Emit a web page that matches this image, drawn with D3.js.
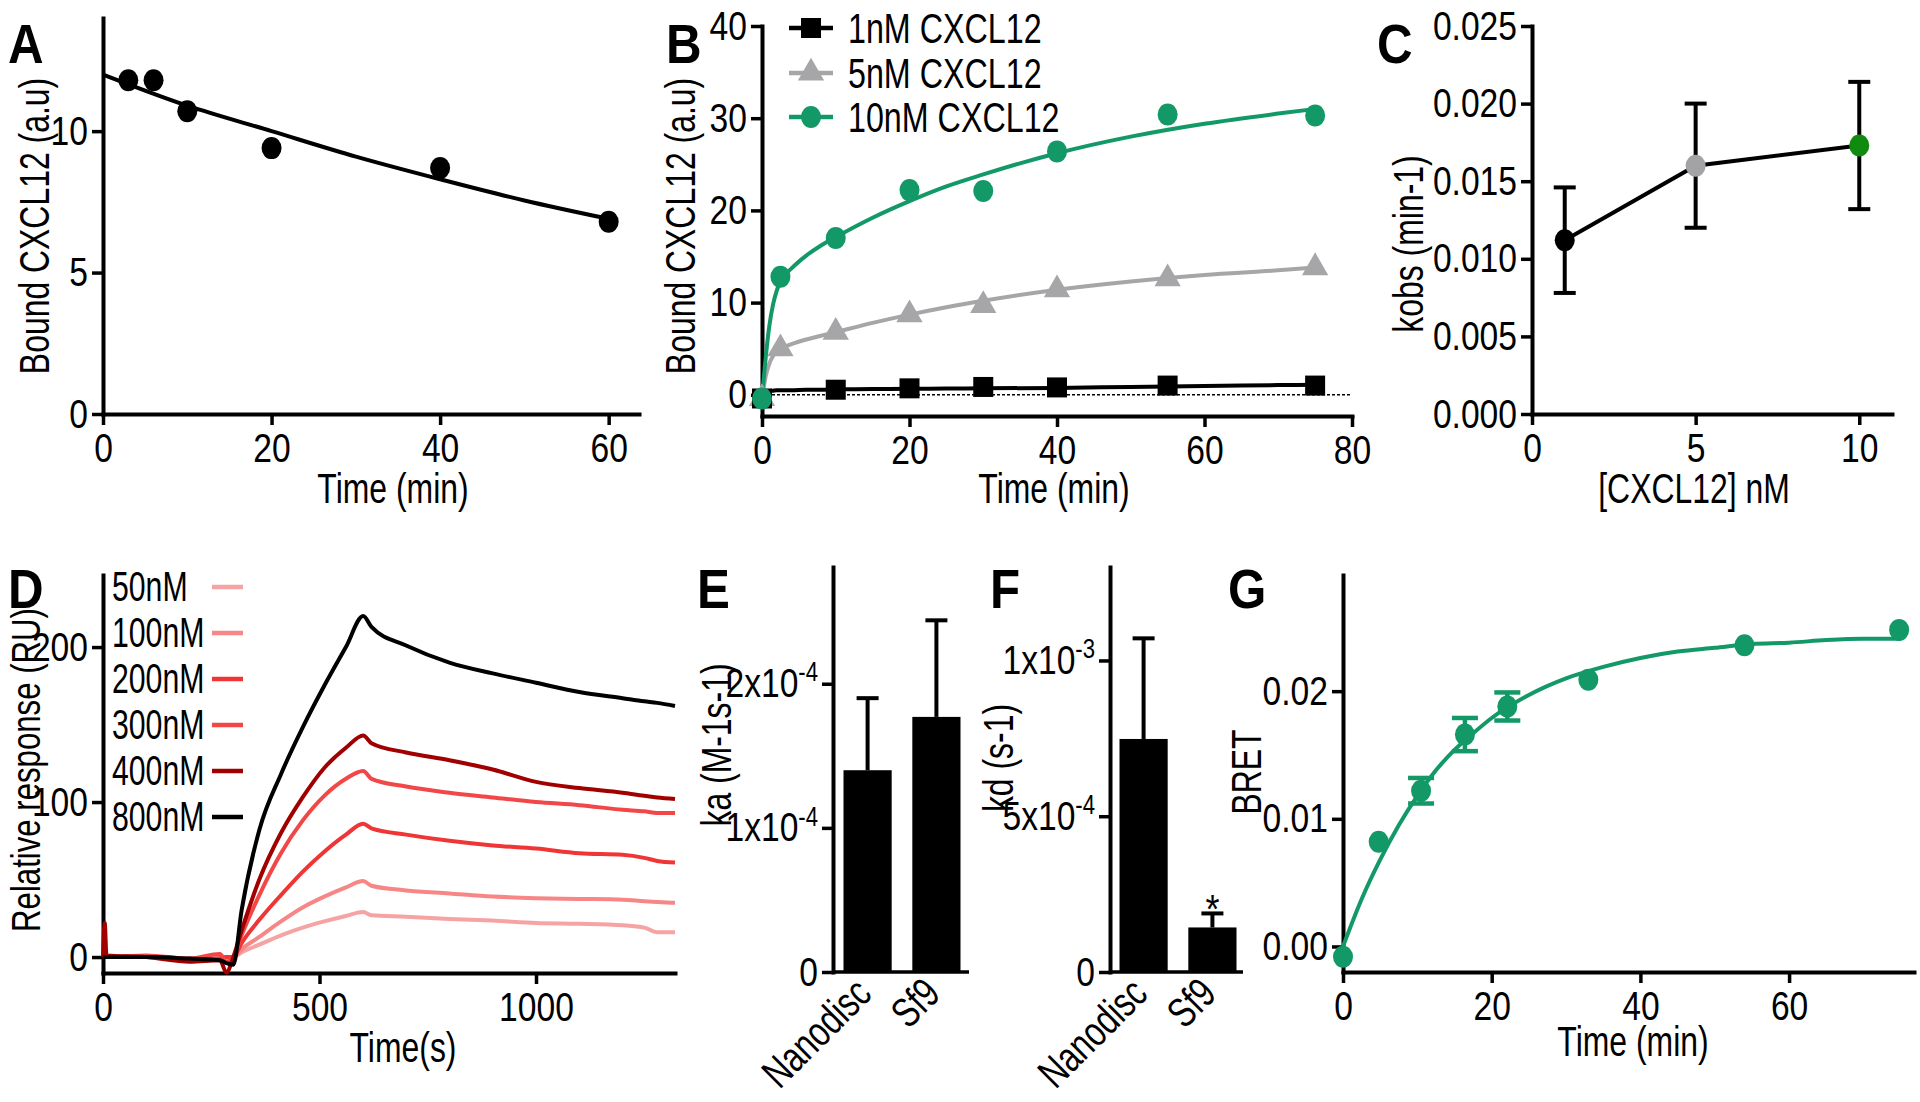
<!DOCTYPE html>
<html><head><meta charset="utf-8">
<script src="https://cdn.jsdelivr.net/npm/d3@7"></script>
<style>
body{margin:0;background:#fff}
svg{display:block}
</style>
</head><body>
<svg id="fig" width="1920" height="1102"></svg>
<script>
// ---------- DATA ----------
// Panel A
const aTime = [3, 6, 10, 20, 40, 60];
const aBound = [11.8, 11.8, 10.7, 9.4, 8.7, 6.8];
const aFitTime = [0, 10, 20, 30, 40, 50, 60];
const aFitBound = [12.0, 10.9, 10.0, 9.1, 8.3, 7.55, 6.9];

// Panel B
const bSeries = ["1nM CXCL12", "5nM CXCL12", "10nM CXCL12"];
const bTime = [0, 2.5, 10, 20, 30, 40, 55, 75];
const b1nM = [-0.4, null, 0.55, 0.7, 0.85, 0.8, 1.0, 1.0];
const b5nM = [-0.4, 5.0, 6.8, 8.7, 9.7, 11.4, 12.6, 13.8];
const b10nM = [-0.4, 12.8, 17.0, 22.2, 22.1, 26.4, 30.4, 30.3];
const bFitTime = [0, 0.5, 1, 1.5, 2, 2.5, 4, 6, 8, 10, 15, 20, 25, 30, 40, 50, 60, 70, 75];
const bFit1 = [-0.3, 0.2, 0.4, 0.45, 0.5, 0.5, 0.5, 0.55, 0.55, 0.6, 0.62, 0.65, 0.68, 0.7, 0.75, 0.85, 0.95, 1.05, 1.1];
const bFit5 = [-0.5, 2.0, 3.4, 4.2, 4.7, 5.0, 5.5, 6.0, 6.4, 6.8, 7.8, 8.7, 9.5, 10.2, 11.4, 12.3, 13.0, 13.5, 13.8];
const bFit10 = [-0.5, 4.0, 7.5, 9.8, 11.3, 12.3, 13.7, 15.1, 16.2, 17.1, 19.2, 21.0, 22.6, 23.9, 26.2, 28.0, 29.4, 30.5, 31.0];

// Panel C
const cConc = [1, 5, 10];
const cKobs = [0.0112, 0.0160, 0.0173];
const cErr = [0.0034, 0.0040, 0.0041];

// Panel D
const dLabels = ["50nM", "100nM", "200nM", "300nM", "400nM", "800nM"];
const dTime = [0, 4, 8, 100, 200, 270, 285, 301, 320, 361, 411, 461, 511, 561, 601, 620, 700, 800, 900, 1000, 1100, 1200, 1250, 1280, 1321];
const d50 =  [0, 1, 0, 0, -1, 0, 0, 0, 3, 8, 14, 19, 23, 26.5, 29, 27, 26, 24.5, 23.5, 22, 21.5, 20.5, 19, 16, 16];
const d100 = [0, 1, 0, 0, -1, 0, 0, 0, 5, 13, 23, 32, 39, 45, 49, 46, 43, 41, 39, 38, 37.5, 37, 36, 35.5, 35];
const d200 = [0, 2, 0, 0, -2, -1, 0, 0, 9, 24, 40, 55, 68, 79, 86, 83, 79, 75, 72, 70, 67, 66, 64, 62, 61];
const d300 = [0, 3, 0, 1, -1, 2, -3, 0, 14, 40, 67, 88, 104, 115, 120, 115, 110, 106, 103, 100, 98, 95, 94, 93, 93];
const d400 = [0, 22, 1, 0, -3, -2, -10, 0, 17, 50, 80, 103, 122, 135, 143, 138, 132, 127, 121, 113, 109, 106, 104, 103, 102];
const d800 = [0, 0, 0, 0, -1, -2, -4, -5, 30, 82, 118, 148, 175, 200, 220, 213, 201, 190, 183, 177, 171, 167, 165, 164, 162];

// Panels E and F
const efCats = ["Nanodisc", "Sf9"];
const eKa = [1.40e-4, 1.77e-4];
const eKaErr = [0.50e-4, 0.67e-4];
const eTicks = [0, 1e-4, 2e-4];
const eTickBase = ["0", "1x10", "2x10"];
const eTickExp = ["", "-4", "-4"];
const fKd = [7.48e-4, 1.43e-4];
const fKdErr = [3.23e-4, 0.45e-4];
const fTicks = [0, 5e-4, 1e-3];
const fTickBase = ["0", "5x10", "1x10"];
const fTickExp = ["", "-4", "-3"];

// Panel G
const gTime = [0, 4.8, 10.5, 16.4, 22.1, 33, 54, 74.8];
const gBret = [-0.0008, 0.0082, 0.0122, 0.0166, 0.0188, 0.0209, 0.0236, 0.0248];
const gErr = [0, 0, 0.0010, 0.0013, 0.0011, 0, 0, 0];
const gFitTime = [0, 2.5, 5, 7.5, 10, 12.5, 15, 17.5, 20, 25, 30, 35, 40, 45, 50, 55, 60, 65, 70, 75];
const gFitBret = [0, 0.0037, 0.0068, 0.0095, 0.0118, 0.0138, 0.0154, 0.0167, 0.0179, 0.0197, 0.0210, 0.0219, 0.0226, 0.0231, 0.0234, 0.0237, 0.0238, 0.0240, 0.0241, 0.0241];

// ---------- STYLE ----------
const FONT = "'Liberation Sans',Arial,sans-serif";
const GREEN = "#139868";
const GREY = "#a6a6a9";
const DCOL = ["#f6a3a3", "#f78686", "#ef3535", "#f24747", "#a00000", "#000000"];
const TICK_FS = 41, TICK_K = 0.82;   // tick labels: tall, condensed
const TITLE_FS = 42, TITLE_K = 0.76; // axis titles
const LW = 4;

const fig = d3.select('#fig');
fig.append('rect').attr('width', 1920).attr('height', 1102).attr('fill', '#fff');

function axisStyle(g) {
  g.attr('font-family', FONT).attr('font-size', TICK_FS);
  g.select('.domain').attr('stroke', '#000').attr('stroke-width', 4).attr('stroke-linecap', 'square');
  g.selectAll('.tick line').attr('stroke', '#000').attr('stroke-width', 3.5);
  g.selectAll('.tick text').attr('fill', '#000').each(function () {
    const t = d3.select(this);
    const x = +t.attr('x') || 0;
    t.attr('x', x / TICK_K).attr('transform', `scale(${TICK_K},1)`);
  });
}
function yAxis(scale, x, ticks, fmt) {
  const g = fig.append('g').attr('transform', `translate(${x},0)`)
    .call(d3.axisLeft(scale).tickValues(ticks).tickFormat(fmt).tickSize(11).tickSizeOuter(0).tickPadding(4));
  axisStyle(g); return g;
}
function xAxis(scale, y, ticks, fmt) {
  const g = fig.append('g').attr('transform', `translate(0,${y})`)
    .call(d3.axisBottom(scale).tickValues(ticks).tickFormat(fmt).tickSize(11).tickSizeOuter(0).tickPadding(8));
  axisStyle(g); return g;
}
function letter(l, x, y) {
  fig.append('text').attr('transform', `translate(${x},${y}) scale(0.88,1)`).attr('font-family', FONT)
    .attr('font-weight', 'bold').attr('font-size', 56).text(l);
}
function label(t, x, y, opts) {
  const o = Object.assign({ rot: 0, anchor: 'middle', fs: TITLE_FS, k: TITLE_K, baseline: null }, opts || {});
  const el = fig.append('text')
    .attr('transform', `translate(${x},${y}) rotate(${o.rot}) scale(${o.k},1)`)
    .attr('text-anchor', o.anchor).attr('font-family', FONT).attr('font-size', o.fs).text(t);
  if (o.baseline) el.attr('dominant-baseline', o.baseline);
  return el;
}
function yTitle(t, x, y) { label(t, x, y, { rot: -90, baseline: 'central' }); }
function xTitle(t, x, y) { label(t, x, y); }
const fmtInt = d3.format('d');

// ---------- PANEL A ----------
{
  const x = d3.scaleLinear().domain([0, 63.6]).range([103, 639]);
  const y = d3.scaleLinear().domain([0, 14]).range([414, 18]);
  yAxis(y, 103, [0, 5, 10], fmtInt);
  xAxis(x, 414, [0, 20, 40, 60], fmtInt);
  const line = d3.line().x(d => x(d[0])).y(d => y(d[1])).curve(d3.curveMonotoneX);
  fig.append('path').attr('d', line(aFitTime.map((t, i) => [t, aFitBound[i]])))
    .attr('fill', 'none').attr('stroke', '#000').attr('stroke-width', LW);
  fig.append('g').selectAll('ellipse').data(aTime).join('ellipse')
    .attr('cx', (d) => x(d)).attr('cy', (d, i) => y(aBound[i])).attr('rx', 10).attr('ry', 11).attr('fill', '#000');
  letter('A', 8, 63);
  yTitle('Bound CXCL12 (a.u)', 34, 226);
  xTitle('Time (min)', 393, 503);
}

// ---------- PANEL B ----------
{
  const x = d3.scaleLinear().domain([0, 80]).range([762, 1352]);
  const y = d3.scaleLinear().domain([-2.3, 40]).range([416, 26]);
  yAxis(y, 762, [0, 10, 20, 30, 40], fmtInt);
  xAxis(x, 416, [0, 20, 40, 60, 80], fmtInt);
  fig.append('line').attr('x1', x(0)).attr('x2', x(80)).attr('y1', y(0)).attr('y2', y(0))
    .attr('stroke', '#000').attr('stroke-width', 1.6).attr('stroke-dasharray', '3,2');
  const line = d3.line().x(d => x(d[0])).y(d => y(d[1])).curve(d3.curveMonotoneX);
  const fits = [bFit1, bFit5, bFit10];
  const pts = [b1nM, b5nM, b10nM];
  const cols = ['#000', GREY, GREEN];
  fits.forEach((f, k) => {
    fig.append('path').attr('d', line(bFitTime.map((t, i) => [t, f[i]])))
      .attr('fill', 'none').attr('stroke', cols[k]).attr('stroke-width', LW);
  });
  const sym = [d3.symbol().type(d3.symbolSquare).size(400), d3.symbol().type(d3.symbolTriangle).size(300), null];
  function marker(k, cx, cy, g) {
    if (k === 2) g.append('ellipse').attr('cx', cx).attr('cy', cy).attr('rx', 10).attr('ry', 11).attr('fill', cols[k]);
    else g.append('path').attr('d', sym[k]()).attr('transform', `translate(${cx},${cy})`).attr('fill', cols[k]);
  }
  const mg = fig.append('g');
  [1, 0, 2].forEach(k => {
    pts[k].forEach((v, i) => { if (v !== null) marker(k, x(bTime[i]), y(v), mg); });
  });
  // legend
  const ly = [28, 73, 117];
  bSeries.forEach((s, k) => {
    fig.append('line').attr('x1', 789).attr('x2', 833).attr('y1', ly[k]).attr('y2', ly[k])
      .attr('stroke', cols[k]).attr('stroke-width', 4.5);
    marker(k, 811, ly[k], fig);
    label(s, 848, ly[k], { anchor: 'start', baseline: 'central', fs: 43, k: 0.75 });
  });
  letter('B', 666, 63);
  yTitle('Bound CXCL12 (a.u)', 680, 226);
  xTitle('Time (min)', 1054, 503);
}

// ---------- PANEL C ----------
{
  const x = d3.scaleLinear().domain([0, 11]).range([1532, 1892]);
  const y = d3.scaleLinear().domain([0, 0.025]).range([414, 26]);
  yAxis(y, 1532, [0, 0.005, 0.01, 0.015, 0.02, 0.025], d3.format('.3f'));
  xAxis(x, 414, [0, 5, 10], fmtInt);
  const line = d3.line().x((d, i) => x(cConc[i])).y(d => y(d));
  fig.append('path').attr('d', line(cKobs)).attr('fill', 'none').attr('stroke', '#000').attr('stroke-width', LW);
  const cCols = ['#000', '#a3a3a6', '#118a10'];
  cConc.forEach((c, i) => {
    const g = fig.append('g').attr('stroke', '#000').attr('stroke-width', 4);
    g.append('line').attr('x1', x(c)).attr('x2', x(c)).attr('y1', y(cKobs[i] - cErr[i])).attr('y2', y(cKobs[i] + cErr[i]));
    g.append('line').attr('x1', x(c) - 11).attr('x2', x(c) + 11).attr('y1', y(cKobs[i] - cErr[i])).attr('y2', y(cKobs[i] - cErr[i]));
    g.append('line').attr('x1', x(c) - 11).attr('x2', x(c) + 11).attr('y1', y(cKobs[i] + cErr[i])).attr('y2', y(cKobs[i] + cErr[i]));
    fig.append('ellipse').attr('cx', x(c)).attr('cy', y(cKobs[i])).attr('rx', 10).attr('ry', 11).attr('fill', cCols[i]);
  });
  letter('C', 1377, 63);
  yTitle('kobs (min-1)', 1408, 244);
  xTitle('[CXCL12] nM', 1694, 503);
}

// ---------- PANEL D ----------
{
  const x = d3.scaleLinear().domain([0, 1321]).range([103, 675]);
  const y = d3.scaleLinear().domain([-10.3, 246.5]).range([973, 575]);
  yAxis(y, 103, [0, 100, 200], fmtInt);
  xAxis(x, 973, [0, 500, 1000], fmtInt);
  const line = d3.line().x(d => x(d[0])).y(d => y(d[1])).curve(d3.curveMonotoneX);
  [d50, d100, d200, d300, d400, d800].forEach((s, k) => {
    fig.append('path').attr('d', line(dTime.map((t, i) => [t, s[i]])))
      .attr('fill', 'none').attr('stroke', DCOL[k]).attr('stroke-width', LW);
  });
  const rows = [587, 633, 679, 725, 771, 817];
  dLabels.forEach((l, k) => {
    label(l, 112, rows[k], { anchor: 'start', baseline: 'central', fs: 42, k: 0.72 });
    fig.append('line').attr('x1', 212).attr('x2', 243).attr('y1', rows[k]).attr('y2', rows[k])
      .attr('stroke', DCOL[k]).attr('stroke-width', 4.5);
  });
  letter('D', 8, 608);
  label('Relative response (RU)', 26, 770, { rot: -90, baseline: 'central', fs: 41 });
  xTitle('Time(s)', 403, 1062);
}

// ---------- PANELS E & F ----------
function barPanel(x0, x1, range, yDom, vals, errs, ticks, base, exp, title, titleX, titleY) {
  const x = d3.scaleBand().domain(efCats).range(range).paddingInner(0.3).paddingOuter(0.08);
  const y = d3.scaleLinear().domain(yDom).range([972, 567]);
  const g = yAxis(y, x0, ticks, d => d);
  g.selectAll('.tick text').each(function (d, i) {
    const t = d3.select(this); t.text(null);
    t.append('tspan').text(base[i]);
    if (exp[i]) t.append('tspan').attr('dy', -16).attr('font-size', 27).text(exp[i]);
  });
  fig.append('line').attr('x1', x0).attr('x2', x1).attr('y1', 972).attr('y2', 972)
    .attr('stroke', '#000').attr('stroke-width', 3.5);
  efCats.forEach((c, i) => {
    const cx = x(c) + x.bandwidth() / 2;
    fig.append('line').attr('x1', cx).attr('x2', cx).attr('y1', y(vals[i])).attr('y2', y(vals[i] + errs[i]))
      .attr('stroke', '#000').attr('stroke-width', 4);
    fig.append('line').attr('x1', cx - 11).attr('x2', cx + 11).attr('y1', y(vals[i] + errs[i])).attr('y2', y(vals[i] + errs[i]))
      .attr('stroke', '#000').attr('stroke-width', 4);
    fig.append('rect').attr('x', x(c)).attr('y', y(vals[i])).attr('width', x.bandwidth()).attr('height', y(0) - y(vals[i]))
      .attr('fill', '#000');
    label(c, cx + 6, 996, { rot: -45, anchor: 'end' });
  });
  yTitle(title, titleX, titleY);
  return { x, y };
}
{
  barPanel(833, 969, [838, 966], [0, 2.81e-4], eKa, eKaErr, eTicks, eTickBase, eTickExp, 'ka (M-1s-1)', 716, 745);
  letter('E', 697, 608);
  const r = barPanel(1110, 1243, [1114, 1242], [0, 1.30e-3], fKd, fKdErr, fTicks, fTickBase, fTickExp, 'kd (s-1)', 998, 758);
  const cx = r.x('Sf9') + r.x.bandwidth() / 2;
  label('*', cx, r.y(fKd[1] + fKdErr[1]) + 10, { fs: 40, k: 0.9 });
  letter('F', 990, 608);
}

// ---------- PANEL G ----------
{
  const x = d3.scaleLinear().domain([0, 76.8]).range([1343, 1914]);
  const y = d3.scaleLinear().domain([-0.002, 0.0291]).range([972, 575]);
  yAxis(y, 1343, [0, 0.01, 0.02], d3.format('.2f'));
  xAxis(x, 972, [0, 20, 40, 60], fmtInt);
  const line = d3.line().x(d => x(d[0])).y(d => y(d[1])).curve(d3.curveMonotoneX);
  fig.append('path').attr('d', line(gFitTime.map((t, i) => [t, gFitBret[i]])))
    .attr('fill', 'none').attr('stroke', GREEN).attr('stroke-width', LW);
  gTime.forEach((t, i) => {
    if (gErr[i] > 0) {
      const g = fig.append('g').attr('stroke', GREEN).attr('stroke-width', 4.5);
      g.append('line').attr('x1', x(t)).attr('x2', x(t)).attr('y1', y(gBret[i] - gErr[i])).attr('y2', y(gBret[i] + gErr[i]));
      [gBret[i] - gErr[i], gBret[i] + gErr[i]].forEach(v => {
        g.append('line').attr('x1', x(t) - 13).attr('x2', x(t) + 13).attr('y1', y(v)).attr('y2', y(v));
      });
    }
    fig.append('ellipse').attr('cx', x(t)).attr('cy', y(gBret[i])).attr('rx', 10).attr('ry', 11).attr('fill', GREEN);
  });
  letter('G', 1228, 608);
  yTitle('BRET', 1246, 772);
  xTitle('Time (min)', 1633, 1056);
}
</script>
</body></html>
